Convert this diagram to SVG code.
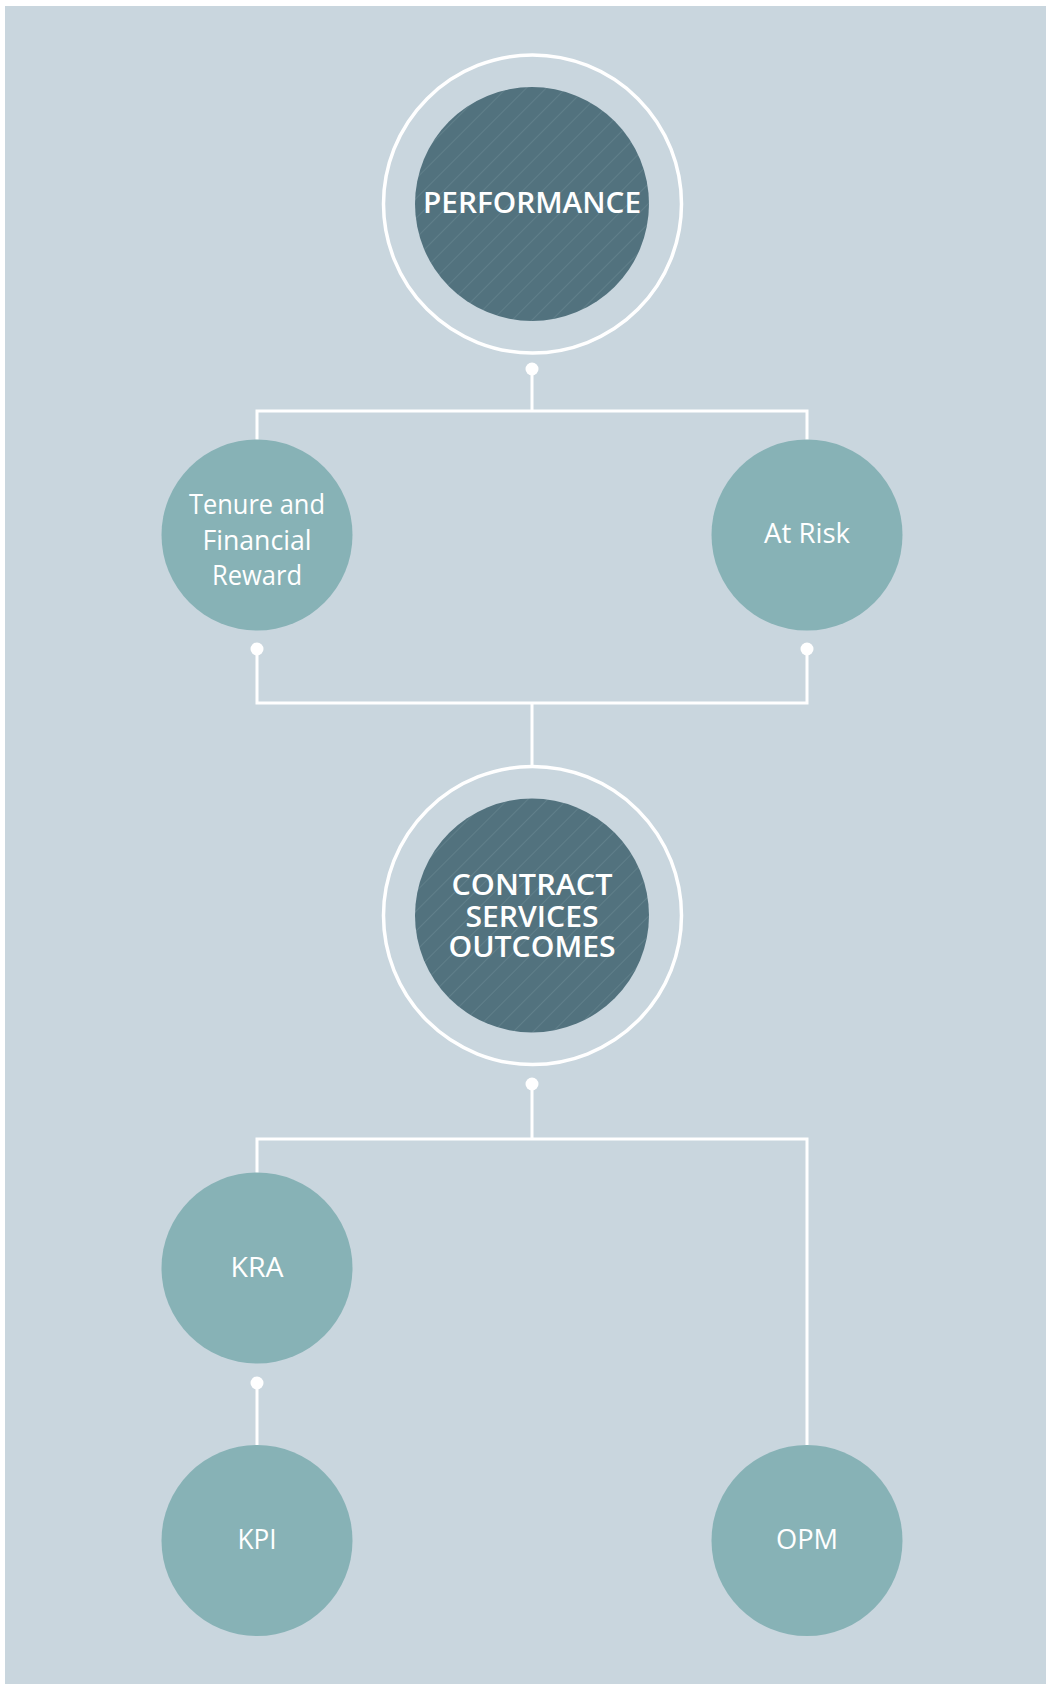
<svg xmlns="http://www.w3.org/2000/svg" width="1046" height="1684" viewBox="0 0 1046 1684">
  <defs>
    <!-- fine diagonal hatching on the dark hub circles -->
    <pattern id="hatch" patternUnits="userSpaceOnUse" width="14" height="14" patternTransform="rotate(45)">
      <rect width="14" height="14" fill="#52727e"/>
      <line x1="0" y1="0" x2="0" y2="14" stroke="#6a8893" stroke-width="1.2"/>
    </pattern>
    <style>
      .bg { fill: #c9d6de; }
      .ring { fill: none; stroke: #ffffff; stroke-width: 3.5; }
      .hub { fill: url(#hatch); }
      .leaf { fill: #87b2b6; }
      .wire { fill: none; stroke: #ffffff; stroke-width: 3; }
      .dot { fill: #ffffff; }
      .hubtxt { font-family: "Open Sans", "Liberation Sans", sans-serif; font-weight: 600; font-size: 28px; fill: #ffffff; text-anchor: middle; }
      .leaftxt { font-family: "Open Sans", "Liberation Sans", sans-serif; font-weight: 400; font-size: 27px; fill: #ffffff; text-anchor: middle; }
    </style>
  </defs>

  <rect class="bg" x="5" y="6" width="1041" height="1678"/>

  <g id="connectors">
    <!-- Performance to its two drivers -->
    <path class="wire" d="M532 369 V411 M257 440 V411 H807 V440"/>
    <circle class="dot" cx="532" cy="369" r="6.5"/>
    <!-- drivers down to Contract Services Outcomes -->
    <path class="wire" d="M257 649 V703 H807 V649 M532 703 V767"/>
    <circle class="dot" cx="257" cy="649" r="6.5"/>
    <circle class="dot" cx="807" cy="649" r="6.5"/>
    <!-- Contract Services Outcomes to KRA and OPM -->
    <path class="wire" d="M532 1084 V1139 M257 1173 V1139 H807 V1445"/>
    <circle class="dot" cx="532" cy="1084" r="6.5"/>
    <!-- KRA to KPI -->
    <path class="wire" d="M257 1383 V1445"/>
    <circle class="dot" cx="257" cy="1383" r="6.5"/>
  </g>

  <g id="performance">
    <circle class="ring" cx="532.5" cy="204" r="149"/>
    <circle class="hub" cx="532" cy="204" r="117"/>
    <text class="hubtxt" x="532" y="213" textLength="218" lengthAdjust="spacingAndGlyphs">PERFORMANCE</text>
  </g>

  <g id="tenure-financial-reward">
    <circle class="leaf" cx="257" cy="535" r="95.5"/>
    <text class="leaftxt" x="257" y="514" textLength="136" lengthAdjust="spacingAndGlyphs">Tenure and</text>
    <text class="leaftxt" x="257" y="550" textLength="109" lengthAdjust="spacingAndGlyphs">Financial</text>
    <text class="leaftxt" x="257" y="585" textLength="90" lengthAdjust="spacingAndGlyphs">Reward</text>
  </g>

  <g id="at-risk">
    <circle class="leaf" cx="807" cy="535" r="95.5"/>
    <text class="leaftxt" x="807" y="543" textLength="86" lengthAdjust="spacingAndGlyphs">At Risk</text>
  </g>

  <g id="contract-services-outcomes">
    <circle class="ring" cx="532.5" cy="915.5" r="149"/>
    <circle class="hub" cx="532" cy="915.5" r="117"/>
    <text class="hubtxt" x="532" y="895" textLength="161" lengthAdjust="spacingAndGlyphs">CONTRACT</text>
    <text class="hubtxt" x="532" y="926.5" textLength="133" lengthAdjust="spacingAndGlyphs">SERVICES</text>
    <text class="hubtxt" x="532" y="957" textLength="167" lengthAdjust="spacingAndGlyphs">OUTCOMES</text>
  </g>

  <g id="kra">
    <circle class="leaf" cx="257" cy="1268" r="95.5"/>
    <text class="leaftxt" x="257" y="1277" textLength="53" lengthAdjust="spacingAndGlyphs">KRA</text>
  </g>

  <g id="kpi">
    <circle class="leaf" cx="257" cy="1540.5" r="95.5"/>
    <text class="leaftxt" x="257" y="1549" textLength="39" lengthAdjust="spacingAndGlyphs">KPI</text>
  </g>

  <g id="opm">
    <circle class="leaf" cx="807" cy="1540.5" r="95.5"/>
    <text class="leaftxt" x="807" y="1549" textLength="62" lengthAdjust="spacingAndGlyphs">OPM</text>
  </g>
</svg>
